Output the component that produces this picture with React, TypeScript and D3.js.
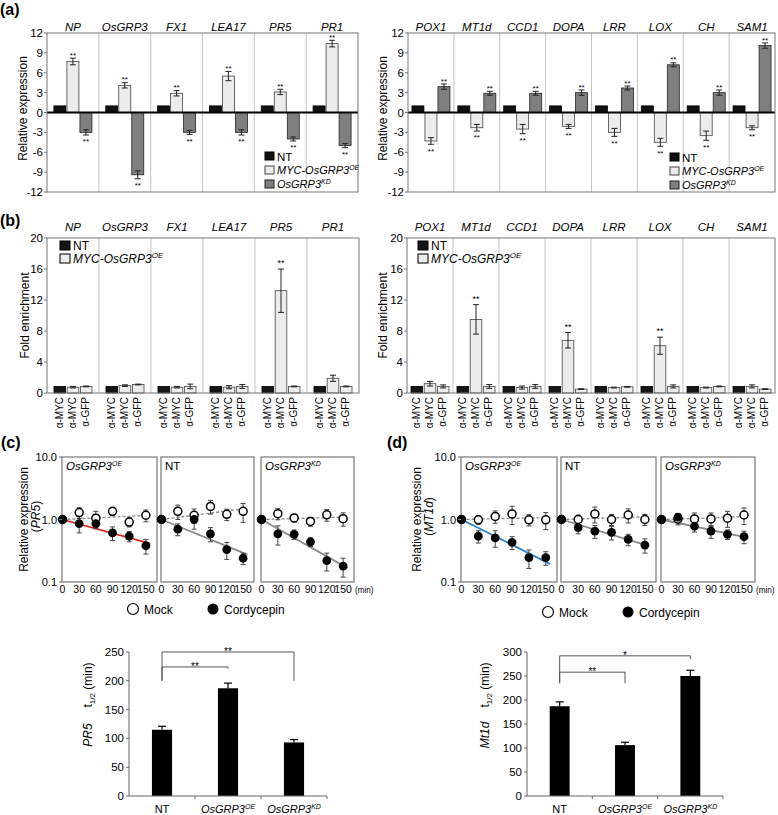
import React from "react";
import * as d3 from "d3";

const W = 778;
const H = 815;
const FONT = "'Liberation Sans', Arial, Helvetica, sans-serif";

// ---------- (a) relative expression ----------
const genesLeft = ["NP", "OsGRP3", "FX1", "LEA17", "PR5", "PR1"];
const genesRight = ["POX1", "MT1d", "CCD1", "DOPA", "LRR", "LOX", "CH", "SAM1"];
const aLeftNT = [1, 1, 1, 1, 1, 1];
const aLeftOE = [7.7, 4.1, 2.9, 5.5, 3.1, 10.4];
const aLeftOEErr = [0.5, 0.4, 0.4, 0.7, 0.4, 0.5];
const aLeftKD = [-3.0, -9.4, -3.0, -3.0, -4.0, -5.0];
const aLeftKDErr = [0.4, 0.6, 0.3, 0.4, 0.3, 0.3];
const aRightNT = [1, 1, 1, 1, 1, 1, 1, 1];
const aRightOE = [-4.3, -2.3, -2.5, -2.1, -3.0, -4.5, -3.5, -2.3];
const aRightOEErr = [0.5, 0.5, 0.7, 0.3, 0.6, 0.6, 0.7, 0.3];
const aRightKD = [3.9, 2.9, 2.9, 3.0, 3.7, 7.2, 3.0, 10.1];
const aRightKDErr = [0.4, 0.3, 0.3, 0.4, 0.3, 0.3, 0.4, 0.4];
const aTicks = [12, 9, 6, 3, 0, -3, -6, -9, -12];

// ---------- (b) ChIP fold enrichment ----------
const bLeftNT = [0.85, 0.85, 0.85, 0.85, 0.85, 0.85];
const bLeftMYC = [0.75, 0.95, 0.75, 0.75, 13.2, 1.9];
const bLeftMYCErr = [0.1, 0.1, 0.1, 0.2, 2.8, 0.4];
const bLeftGFP = [0.85, 1.1, 0.85, 0.85, 0.85, 0.85];
const bLeftGFPErr = [0.05, 0.05, 0.3, 0.25, 0.05, 0.05];
const bLeftSig = ["", "", "", "", "**", ""];
const bRightNT = [0.85, 0.85, 0.85, 0.85, 0.85, 0.85, 0.85, 0.85];
const bRightMYC = [1.2, 9.5, 0.7, 6.8, 0.7, 6.1, 0.7, 0.85];
const bRightMYCErr = [0.3, 1.9, 0.2, 1.0, 0.05, 1.1, 0.05, 0.2];
const bRightGFP = [0.85, 0.85, 0.85, 0.5, 0.8, 0.85, 0.85, 0.5];
const bRightGFPErr = [0.2, 0.25, 0.25, 0.05, 0.05, 0.2, 0.05, 0.05];
const bRightSig = ["", "**", "", "**", "", "**", "", ""];
const bTicks = [0, 4, 8, 12, 16, 20];
const bBarLabels = ["α-MYC", "α-MYC", "α-GFP"];

// ---------- (c) PR5 decay ----------
const times = [0, 30, 60, 90, 120, 150];
const cMockOE = [1.0, 1.29, 1.05, 1.35, 0.91, 1.17];
const cMockOEErr = [0, 0.25, 0.3, 0.2, 0.15, 0.25];
const cCordOE = [1.0, 0.86, 0.86, 0.61, 0.54, 0.38];
const cCordOEErr = [0, 0.25, 0.15, 0.15, 0.1, 0.1];
const cMockNT = [1.0, 1.35, 1.17, 1.62, 1.21, 1.35];
const cMockNTErr = [0, 0.35, 0.3, 0.4, 0.25, 0.45];
const cCordNT = [1.0, 0.7, 1.0, 0.59, 0.33, 0.24];
const cCordNTErr = [0, 0.15, 0.3, 0.15, 0.1, 0.05];
const cMockKD = [1.0, 1.24, 1.06, 0.93, 1.19, 1.03];
const cMockKDErr = [0, 0.25, 0.15, 0.15, 0.25, 0.25];
const cCordKD = [1.0, 0.59, 0.58, 0.44, 0.22, 0.18];
const cCordKDErr = [0, 0.2, 0.1, 0.07, 0.07, 0.06];

// ---------- (d) MT1d decay ----------
const dMockOE = [1.0, 0.99, 1.12, 1.23, 0.99, 0.99];
const dMockOEErr = [0, 0.15, 0.25, 0.4, 0.2, 0.3];
const dCordOE = [1.0, 0.54, 0.51, 0.43, 0.245, 0.245];
const dCordOEErr = [0, 0.12, 0.15, 0.1, 0.08, 0.06];
const dMockNT = [1.0, 1.0, 1.23, 1.0, 1.18, 1.0];
const dMockNTErr = [0, 0.18, 0.35, 0.2, 0.3, 0.2];
const dCordNT = [1.0, 0.74, 0.65, 0.62, 0.48, 0.39];
const dCordNTErr = [0, 0.15, 0.15, 0.15, 0.1, 0.1];
const dMockKD = [1.0, 1.02, 1.02, 1.02, 1.05, 1.18];
const dMockKDErr = [0, 0.2, 0.25, 0.25, 0.3, 0.35];
const dCordKD = [1.0, 1.09, 0.78, 0.65, 0.58, 0.53];
const dCordKDErr = [0, 0.15, 0.15, 0.15, 0.1, 0.12];
const logTicks = [10, 1, 0.1];
const logTickLabels = ["10.0", "1.0", "0.1"];

// ---------- half-life bars ----------
const hlCats = ["NT", "OE", "KD"];
const pr5HalfLife = [115, 187, 93];
const pr5HalfLifeErr = [6, 9, 5];
const pr5Ticks = [0, 50, 100, 150, 200, 250];
const mt1dHalfLife = [187, 106, 250];
const mt1dHalfLifeErr = [9, 6, 12];
const mt1dTicks = [0, 50, 100, 150, 200, 250, 300];
const pr5Brackets = [
  { a: "NT", b: "OE", level: 224, endA: 200, endB: 221, label: "**" },
  { a: "NT", b: "KD", level: 250, endA: 200, endB: 200, label: "**" },
];
const mt1dBrackets = [
  { a: "NT", b: "OE", level: 258, endA: 235, endB: 235, label: "**" },
  { a: "NT", b: "KD", level: 292, endA: 235, endB: 285, label: "*" },
];

function Geno({ sup, size = 7 }: any) {
  return (
    <>
      <tspan fontStyle="italic">OsGRP3</tspan>
      <tspan dy={-4} fontSize={size} fontStyle="italic">
        {sup}
      </tspan>
    </>
  );
}

function ErrorBar({ x, y1, y2, cap = 3, color = "#222", w = 1 }: any) {
  return (
    <g stroke={color} strokeWidth={w}>
      <line x1={x} x2={x} y1={y1} y2={y2} />
      <line x1={x - cap} x2={x + cap} y1={y1} y2={y1} />
      <line x1={x - cap} x2={x + cap} y1={y2} y2={y2} />
    </g>
  );
}

function ExprPanel(p: any) {
  const top = 33;
  const bottom = 192;
  const y = d3.scaleLinear().domain([-12, 12]).range([bottom, top]);
  const x = d3.scaleBand<string>().domain(p.genes).range([p.left, p.right]);
  const cluster = 38;
  const inner = d3.scaleBand<string>().domain(["NT", "OE", "KD"]).range([0, cluster]).paddingInner(0.08);
  const off = (x.bandwidth() - cluster) / 2;
  const series = [
    { key: "NT", vals: p.nt, errs: null, fill: "#111", stroke: "#000" },
    { key: "OE", vals: p.oe, errs: p.oeErr, fill: "#ececec", stroke: "#444" },
    { key: "KD", vals: p.kd, errs: p.kdErr, fill: "#7f7f7f", stroke: "#222" },
  ];
  const bw = inner.bandwidth();
  return (
    <g>
      {p.genes.map((g: string, i: number) =>
        i > 0 ? <line key={g} x1={x(g)} x2={x(g)} y1={top} y2={bottom} stroke="#c4c4c4" strokeWidth={1} /> : null
      )}
      {series.map((s) =>
        p.genes.map((g: string, i: number) => {
          const v = s.vals[i];
          const bx = (x(g) as number) + off + (inner(s.key) as number);
          const y0 = y(0);
          const yv = y(v);
          const e = s.errs ? s.errs[i] : 0;
          const yEnd = v >= 0 ? y(v + e) : y(v - e);
          return (
            <g key={s.key + g}>
              <rect x={bx} y={Math.min(y0, yv)} width={bw} height={Math.abs(yv - y0)} fill={s.fill} stroke={s.stroke} strokeWidth={0.8} />
              {s.errs ? <ErrorBar x={bx + bw / 2} y1={y(v - e)} y2={y(v + e)} /> : null}
              {s.errs ? (
                <text x={bx + bw / 2} y={v >= 0 ? yEnd - 0.4 : yEnd + 9.3} textAnchor="middle" fontSize={8}>
                  **
                </text>
              ) : null}
            </g>
          );
        })
      )}
      <line x1={p.left} x2={p.right} y1={y(0)} y2={y(0)} stroke="#000" strokeWidth={2} />
      <rect x={p.left} y={top} width={p.right - p.left} height={bottom - top} fill="none" stroke="#777" strokeWidth={1} />
      {aTicks.map((t) => (
        <g key={t}>
          <line x1={p.left - 3} x2={p.left} y1={y(t)} y2={y(t)} stroke="#777" />
          <text x={p.left - 4} y={y(t) + 4} textAnchor="end" fontSize={11.5}>
            {t}
          </text>
        </g>
      ))}
      {p.genes.map((g: string) => (
        <text key={g} x={(x(g) as number) + x.bandwidth() / 2} y={top - 2.5} textAnchor="middle" fontSize={11.5} fontStyle="italic">
          {g}
        </text>
      ))}
      <text transform={`translate(${p.yLabelX},${(top + bottom) / 2 - 4}) rotate(-90)`} textAnchor="middle" fontSize={12}>
        Relative  expression
      </text>
      <g>
        <rect x={p.legX} y={p.legY} width={9} height={8} fill="#111" stroke="#000" />
        <text x={p.legX + 12} y={p.legY + 8.5} fontSize={11.5}>NT</text>
        <rect x={p.legX} y={p.legY + 14} width={9} height={8} fill="#ececec" stroke="#444" />
        <text x={p.legX + 12} y={p.legY + 22} fontSize={11} fontStyle="italic">
          MYC-OsGRP3<tspan dy={-4} fontSize={7}>OE</tspan>
        </text>
        <rect x={p.legX} y={p.legY + 28} width={9} height={8} fill="#7f7f7f" stroke="#222" />
        <text x={p.legX + 12} y={p.legY + 36} fontSize={11} fontStyle="italic">
          OsGRP3<tspan dy={-4} fontSize={7}>KD</tspan>
        </text>
      </g>
    </g>
  );
}

function ChipPanel(p: any) {
  const top = 238;
  const bottom = 393;
  const y = d3.scaleLinear().domain([0, 20]).range([bottom, top]);
  const x = d3.scaleBand<string>().domain(p.genes).range([p.left, p.right]);
  const cluster = 38;
  const inner = d3.scaleBand<string>().domain(["NT", "MYC", "GFP"]).range([0, cluster]).paddingInner(0.12);
  const off = (x.bandwidth() - cluster) / 2;
  const series = [
    { key: "NT", vals: p.nt, errs: null, sig: null, fill: "#151515", stroke: "#000" },
    { key: "MYC", vals: p.myc, errs: p.mycErr, sig: p.sig, fill: "#ececec", stroke: "#444" },
    { key: "GFP", vals: p.gfp, errs: p.gfpErr, sig: null, fill: "#ececec", stroke: "#444" },
  ];
  const bw = inner.bandwidth();
  return (
    <g>
      {p.genes.map((g: string, i: number) =>
        i > 0 ? <line key={g} x1={x(g)} x2={x(g)} y1={top} y2={bottom} stroke="#c4c4c4" strokeWidth={1} /> : null
      )}
      {series.map((s, si) =>
        p.genes.map((g: string, i: number) => {
          const v = s.vals[i];
          const bx = (x(g) as number) + off + (inner(s.key) as number);
          const e = s.errs ? s.errs[i] : 0;
          const cx = bx + bw / 2;
          return (
            <g key={s.key + g}>
              <rect x={bx} y={y(v)} width={bw} height={y(0) - y(v)} fill={s.fill} stroke={s.stroke} strokeWidth={0.8} />
              {s.errs ? <ErrorBar x={cx} y1={y(v - e)} y2={y(v + e)} cap={3} /> : null}
              {s.sig && s.sig[i] ? (
                <text x={cx} y={y(v + e) - 3} textAnchor="middle" fontSize={9}>
                  {s.sig[i]}
                </text>
              ) : null}
              <text transform={`translate(${cx + 3},${bottom + 4}) rotate(-90)`} textAnchor="end" fontSize={10}>
                {bBarLabels[si]}
              </text>
            </g>
          );
        })
      )}
      <rect x={p.left} y={top} width={p.right - p.left} height={bottom - top} fill="none" stroke="#777" strokeWidth={1} />
      {bTicks.map((t) => (
        <g key={t}>
          <line x1={p.left - 3} x2={p.left} y1={y(t)} y2={y(t)} stroke="#777" />
          <text x={p.left - 4} y={y(t) + 4} textAnchor="end" fontSize={11.5}>
            {t}
          </text>
        </g>
      ))}
      {p.genes.map((g: string) => (
        <text key={g} x={(x(g) as number) + x.bandwidth() / 2} y={top - 7} textAnchor="middle" fontSize={11.5} fontStyle="italic">
          {g}
        </text>
      ))}
      <text transform={`translate(${p.yLabelX},${(top + bottom) / 2}) rotate(-90)`} textAnchor="middle" fontSize={12}>
        Fold enrichment
      </text>
      <g>
        <rect x={p.legX} y={top + 3} width={10} height={9} fill="#151515" stroke="#000" />
        <text x={p.legX + 13} y={top + 12} fontSize={12}>NT</text>
        <rect x={p.legX} y={top + 16} width={10} height={9} fill="#ececec" stroke="#222" strokeWidth={1.2} />
        <text x={p.legX + 13} y={top + 25} fontSize={12} fontStyle="italic">
          MYC-OsGRP3<tspan dy={-5} fontSize={8}>OE</tspan>
        </text>
      </g>
    </g>
  );
}

function fitSlope(ts: number[], vs: number[]) {
  let num = 0;
  let den = 0;
  ts.forEach((t, i) => {
    num += t * Math.log(vs[i]);
    den += t * t;
  });
  return num / den;
}

function DecayPanel(p: any) {
  const top = 457;
  const bottom = 582;
  const y = d3.scaleLog().domain([0.1, 10]).range([bottom, top]);
  const lastR = p.boxes[2][1];
  return (
    <g>
      {p.boxes.map((bx: number[], k: number) => {
        const [l, r] = bx;
        const x = d3.scaleLinear().domain([0, 170]).range([l + 0.5, r]);
        const mock = p.mock[k];
        const mockErr = p.mockErr[k];
        const cord = p.cord[k];
        const cordErr = p.cordErr[k];
        const bC = fitSlope(times, cord);
        const bM = fitSlope(times, mock);
        const fit = d3.line<number>().x((t) => x(t)).y((t) => y(Math.exp(bC * t)));
        const fitM = d3.line<number>().x((t) => x(t)).y((t) => y(Math.exp(bM * t)));
        return (
          <g key={k}>
            <rect x={l} y={top} width={r - l} height={bottom - top} fill="#fff" stroke="#777" strokeWidth={1.2} />
            <path d={fitM([0, 152]) as string} stroke="#8a8a8a" strokeWidth={1.3} strokeDasharray="3,2" fill="none" />
            <path d={fit([0, 158]) as string} stroke={p.fitColors[k]} strokeWidth={1.8} fill="none" />
            {times.map((t, i) =>
              i > 0 ? (
                <g key={"e" + t}>
                  <ErrorBar x={x(t)} y1={y(mock[i] - mockErr[i])} y2={y(mock[i] + mockErr[i])} cap={2.5} color="#444" />
                  <ErrorBar x={x(t)} y1={y(cord[i] - cordErr[i])} y2={y(cord[i] + cordErr[i])} cap={2.5} color="#444" />
                </g>
              ) : null
            )}
            {times.map((t, i) => (
              <circle key={"m" + t} cx={x(t)} cy={y(mock[i])} r={4} fill="#fff" stroke="#000" strokeWidth={1.5} />
            ))}
            {times.map((t, i) => (
              <circle key={"c" + t} cx={x(t)} cy={y(cord[i])} r={4.4} fill="#000" />
            ))}
            <text x={l + 4} y={top + 13} fontSize={11.5}>
              {p.titles[k] === "NT" ? "NT" : <Geno sup={p.titles[k]} />}
            </text>
            {times.map((t) => (
              <text key={"t" + t} x={x(t)} y={593} textAnchor="middle" fontSize={10.5}>
                {t}
              </text>
            ))}
          </g>
        );
      })}
      <text x={lastR + 1} y={593} fontSize={9.5} textLength={18.5} lengthAdjust="spacingAndGlyphs">(min)</text>
      {logTicks.map((t, i) => (
        <g key={t}>
          <line x1={p.boxes[0][0] - 3} x2={p.boxes[0][0]} y1={y(t)} y2={y(t)} stroke="#777" />
          <text x={p.boxes[0][0] - 5} y={y(t) + 4} textAnchor="end" fontSize={11}>
            {logTickLabels[i]}
          </text>
        </g>
      ))}
      <text transform={`translate(${p.yLabelX},${(top + bottom) / 2}) rotate(-90)`} textAnchor="middle" fontSize={12}>
        Relative expression
      </text>
      <text transform={`translate(${p.yLabelX + 12},${(top + bottom) / 2 - 3}) rotate(-90)`} textAnchor="middle" fontSize={12}>
        (<tspan fontStyle="italic">{p.gene}</tspan>)
      </text>
      <circle cx={p.legX} cy={p.legY} r={5.5} fill="#fff" stroke="#000" strokeWidth={1.2} />
      <text x={p.legX + 11} y={p.legY + 4.5} fontSize={12}>Mock</text>
      <circle cx={p.legX + 80} cy={p.legY} r={5.5} fill="#000" />
      <text x={p.legX + 91} y={p.legY + 4.5} fontSize={12}>Cordycepin</text>
    </g>
  );
}

function HalfLifeChart(p: any) {
  const top = 652;
  const bottom = 796;
  const y = d3.scaleLinear().domain([0, p.yMax]).range([bottom, top]);
  const x = d3.scaleBand<string>().domain(hlCats).range([p.left, p.right]).paddingInner(0.695).paddingOuter(0.3475);
  const step = x.step();
  const cx = (c: string) => (x(c) as number) + x.bandwidth() / 2;
  return (
    <g>
      {hlCats.map((c, i) => {
        const v = p.vals[i];
        const e = p.errs[i];
        return (
          <g key={c}>
            <rect x={x(c)} y={y(v)} width={x.bandwidth()} height={bottom - y(v)} fill="#000" />
            <line x1={cx(c)} x2={cx(c)} y1={y(v)} y2={y(v + e)} stroke="#000" strokeWidth={1.2} />
            <line x1={cx(c) - 4} x2={cx(c) + 4} y1={y(v + e)} y2={y(v + e)} stroke="#000" strokeWidth={1.2} />
          </g>
        );
      })}
      <line x1={p.left} x2={p.left} y1={top} y2={bottom} stroke="#666" />
      <line x1={p.left} x2={p.right} y1={bottom} y2={bottom} stroke="#666" />
      {hlCats.map((c, i) => (
        <line key={c} x1={p.left + step * (i + 1)} x2={p.left + step * (i + 1)} y1={bottom} y2={bottom + 3} stroke="#666" />
      ))}
      {p.ticks.map((t: number) => (
        <g key={t}>
          <line x1={p.left - 3} x2={p.left} y1={y(t)} y2={y(t)} stroke="#666" />
          <text x={p.left - 5} y={y(t) + 4} textAnchor="end" fontSize={11.5}>
            {t}
          </text>
        </g>
      ))}
      {p.brackets.map((b: any, i: number) => (
        <path key={i} d={`M${cx(b.a)},${y(b.endA)} V${y(b.level)} H${cx(b.b)} V${y(b.endB)}`} stroke="#555" strokeWidth={1} fill="none" />
      ))}
      {p.brackets.map((b: any, i: number) => (
        <text key={"l" + i} x={(cx(b.a) + cx(b.b)) / 2} y={y(b.level) + 3} textAnchor="middle" fontSize={10} fill="#000">
          {b.label}
        </text>
      ))}
      <text x={cx("NT")} y={813} textAnchor="middle" fontSize={11}>NT</text>
      <text x={cx("OE")} y={813} textAnchor="middle" fontSize={11}>
        <Geno sup="OE" />
      </text>
      <text x={cx("KD")} y={813} textAnchor="middle" fontSize={11}>
        <Geno sup="KD" />
      </text>
      <text transform={`translate(${p.yLabelX},${735}) rotate(-90)`} textAnchor="middle" fontSize={12} fontStyle="italic">
        {p.gene}
      </text>
      <text transform={`translate(${p.yLabelX},${685}) rotate(-90)`} textAnchor="middle" fontSize={12}>
        t<tspan dy={3} fontSize={8}>1/2</tspan>
        <tspan dy={-3}> (min)</tspan>
      </text>
    </g>
  );
}

export default function App() {
  return (
    <div style={{ position: "absolute", left: 0, top: 0, width: W, height: H, background: "#fff" }}>
      <svg width={W} height={H} style={{ display: "block", fontFamily: FONT }}>
        <rect width={W} height={H} fill="#fff" />
        <text x={0} y={15} fontSize={16} fontWeight="bold">(a)</text>
        <text x={0} y={226} fontSize={16} fontWeight="bold">(b)</text>
        <text x={1} y={448} fontSize={16} fontWeight="bold">(c)</text>
        <text x={387} y={448} fontSize={16} fontWeight="bold">(d)</text>

        <ExprPanel genes={genesLeft} nt={aLeftNT} oe={aLeftOE} oeErr={aLeftOEErr} kd={aLeftKD} kdErr={aLeftKDErr}
          left={47} right={358} yLabelX={27} legX={265} legY={152} />
        <ExprPanel genes={genesRight} nt={aRightNT} oe={aRightOE} oeErr={aRightOEErr} kd={aRightKD} kdErr={aRightKDErr}
          left={408} right={775} yLabelX={387} legX={670} legY={153} />

        <ChipPanel genes={genesLeft} nt={bLeftNT} myc={bLeftMYC} mycErr={bLeftMYCErr} gfp={bLeftGFP} gfpErr={bLeftGFPErr}
          sig={bLeftSig} left={47} right={359} yLabelX={29} legX={60} />
        <ChipPanel genes={genesRight} nt={bRightNT} myc={bRightMYC} mycErr={bRightMYCErr} gfp={bRightGFP} gfpErr={bRightGFPErr}
          sig={bRightSig} left={407} right={775} yLabelX={387} legX={418} />

        <DecayPanel boxes={[[62, 157], [161, 254], [261, 354]]} titles={["OE", "NT", "KD"]}
          mock={[cMockOE, cMockNT, cMockKD]} mockErr={[cMockOEErr, cMockNTErr, cMockKDErr]}
          cord={[cCordOE, cCordNT, cCordKD]} cordErr={[cCordOEErr, cCordNTErr, cCordKDErr]}
          fitColors={["#e3231c", "#8a8a8a", "#8a8a8a"]} gene="PR5" yLabelX={28} legX={133} legY={609} />
        <DecayPanel boxes={[[461, 557], [561, 656], [661, 755]]} titles={["OE", "NT", "KD"]}
          mock={[dMockOE, dMockNT, dMockKD]} mockErr={[dMockOEErr, dMockNTErr, dMockKDErr]}
          cord={[dCordOE, dCordNT, dCordKD]} cordErr={[dCordOEErr, dCordNTErr, dCordKDErr]}
          fitColors={["#2a83cc", "#8a8a8a", "#8a8a8a"]} gene="MT1d" yLabelX={421} legX={548} legY={612} />

        <HalfLifeChart left={129} right={327} yMax={250} ticks={pr5Ticks} vals={pr5HalfLife} errs={pr5HalfLifeErr}
          brackets={pr5Brackets} gene="PR5" yLabelX={92} />
        <HalfLifeChart left={527} right={723} yMax={300} ticks={mt1dTicks} vals={mt1dHalfLife} errs={mt1dHalfLifeErr}
          brackets={mt1dBrackets} gene="Mt1d" yLabelX={489} />
      </svg>
    </div>
  );
}
